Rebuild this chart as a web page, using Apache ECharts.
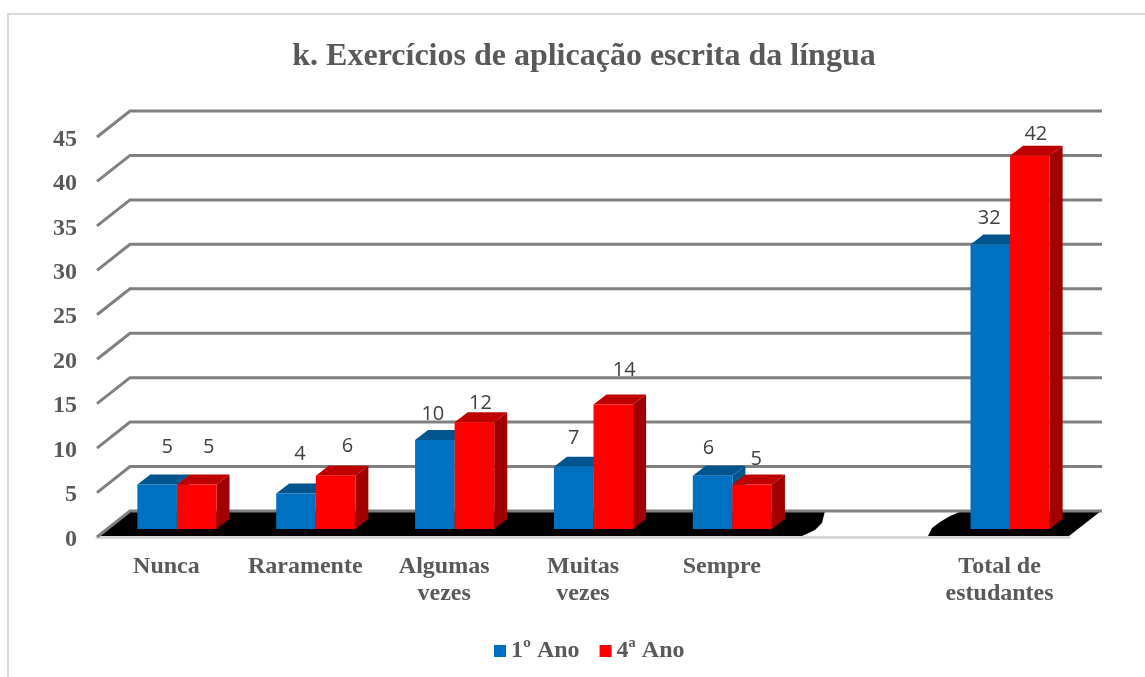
<!DOCTYPE html>
<html><head><meta charset="utf-8">
<script src="https://cdn.jsdelivr.net/npm/echarts@6/dist/echarts.min.js"></script>
<style>html,body{margin:0;padding:0;background:#fff}#c{width:1145px;height:677px}</style>
</head><body><div id="c"></div>
<script>
var titleText = 'k. Exercícios de aplicação escrita da língua';
var categories = ['Nunca','Raramente','Algumas\nvezes','Muitas\nvezes','Sempre','','Total de\nestudantes'];
var ano1Name = '1º Ano';
var ano4Name = '4ª Ano';
var ano1 = [5,4,10,7,6,null,32];
var ano4 = [5,6,12,14,5,null,42];
var yTicks = [0,5,10,15,20,25,30,35,40,45];

// label placement relative to each bar's top (px), as in the reference
var nudge1 = [[10,-37],[4,-39],[-2,-26],[0,-28],[-4,-27],null,[-1,-26]];
var nudge4 = [[12,-37],[12,-29],[6,-19],[11,-34],[4,-25],null,[6,-21]];

var GRAY='#595959', SERIF='"Liberation Serif","Times New Roman",serif';
var DX=33, DY=-26;

function bandOf(api){ return api.size([1,0])[0]; }
function leftOf(api){ return api.coord([0,0])[0]-bandOf(api)/2; }

function renderWall(params, api){
  var v=api.value(1), p=api.coord([0,v]), l=leftOf(api), r=l+bandOf(api)*categories.length;
  return {type:'polyline', shape:{points:[[l,p[1]],[l+DX,p[1]+DY],[r+DX,p[1]+DY]]},
    style:{stroke:'#808080',lineWidth:3,fill:null}};
}
function renderFloor(params, api){
  var l=leftOf(api), y=api.coord([0,0])[1]-1;
  function pts(list){return list.map(function(o){return [l+o[0],y+o[1]];});}
  return {type:'group',children:[
    {type:'polygon',shape:{points:pts([[0,0],[33,-25],[728,-25],[725,-13],[718,-6],[705,0]])},style:{fill:'#000'}},
    {type:'polygon',shape:{points:pts([[831,0],[835,-8],[843,-14],[853,-20],[865,-25],[1004,-25],[972,0]])},style:{fill:'#000'}}
  ]};
}
function barRenderer(side, colors, nudges){
  return function(params, api){
    var v=api.value(1);
    if(isNaN(v)||v===null) return null;
    var i=api.value(0), top=api.coord([i,v]), base=api.coord([i,0]);
    var w=bandOf(api)*0.285, ox=10.5, oy=-8, dx=13, dy=-10;
    var x0=base[0]+ox+(side<0?-w:0), x1=x0+w, y0=base[1]+oy, y1=top[1]+oy;
    var n=nudges[i];
    return {type:'group',children:[
      {type:'polygon',shape:{points:[[x0,y1],[x0+dx,y1+dy],[x1+dx,y1+dy],[x1,y1]]},style:{fill:colors[1]}},
      {type:'polygon',shape:{points:[[x1,y0],[x1+dx,y0+dy],[x1+dx,y1+dy],[x1,y1]]},style:{fill:colors[2]}},
      {type:'rect',shape:{x:x0,y:y1,width:w,height:y0-y1},style:{fill:colors[0]}},
      {type:'text',z2:50,style:{text:String(v),x:(x0+x1)/2+n[0],y:y1+n[1],align:'center',verticalAlign:'middle',
        font:'20px "Open Sans",sans-serif',fill:'#404040'}}
    ]};
  };
}
var chart=echarts.init(document.getElementById('c'),null,{renderer:'canvas'});
chart.setOption({
  animation:false,
  backgroundColor:'#fff',
  title:{text:titleText,left:579,top:36,textAlign:'center',
    textStyle:{fontFamily:SERIF,fontWeight:'bold',fontSize:32,color:GRAY}},
  legend:{data:[ano1Name,ano4Name],left:489,top:634,icon:'rect',itemWidth:12,itemHeight:12,itemGap:20,
    textStyle:{fontFamily:SERIF,fontWeight:'bold',fontSize:24,color:GRAY}},
  grid:{left:97,right:76,top:137,bottom:140,containLabel:false},
  xAxis:{type:'category',data:categories,
    axisLine:{lineStyle:{color:'#d9d9d9',width:3}},axisTick:{show:false},
    axisLabel:{interval:0,margin:16,lineHeight:27,fontFamily:SERIF,fontWeight:'bold',fontSize:24,color:GRAY},
    splitLine:{show:false}},
  yAxis:{type:'value',min:0,max:45,interval:5,
    axisLine:{show:false},axisTick:{show:false},splitLine:{show:false},
    axisLabel:{margin:20,formatter:'{a|{value}}',verticalAlignMinLabel:'middle',verticalAlignMaxLabel:'middle',
      rich:{a:{padding:[5,0,0,0],fontFamily:SERIF,fontWeight:'bold',fontSize:24,color:GRAY}}}},
  graphic:[{type:'polyline',silent:true,shape:{points:[[8,677],[8,14],[1145,14]]},style:{stroke:'#d9d9d9',lineWidth:2,fill:null},z:-1}],
  series:[
    {type:'custom',name:'floor',silent:true,z:1,data:[[0,0]],renderItem:renderFloor,encode:{x:0,y:1}},
    {type:'custom',name:'walls',silent:true,z:2,data:yTicks.map(function(t){return [0,t];}),renderItem:renderWall,encode:{x:0,y:1}},
    {type:'custom',name:ano1Name,z:3,itemStyle:{color:'#0070C0'},data:ano1.map(function(v,i){return [i,v];}),
      renderItem:barRenderer(-1,['#0070C0','#00558F','#00558F'],nudge1),encode:{x:0,y:1}},
    {type:'custom',name:ano4Name,z:4,itemStyle:{color:'#FF0000'},data:ano4.map(function(v,i){return [i,v];}),
      renderItem:barRenderer(1,['#FF0000','#BF0000','#A00000'],nudge4),encode:{x:0,y:1}}
  ]
});
</script></body></html>
